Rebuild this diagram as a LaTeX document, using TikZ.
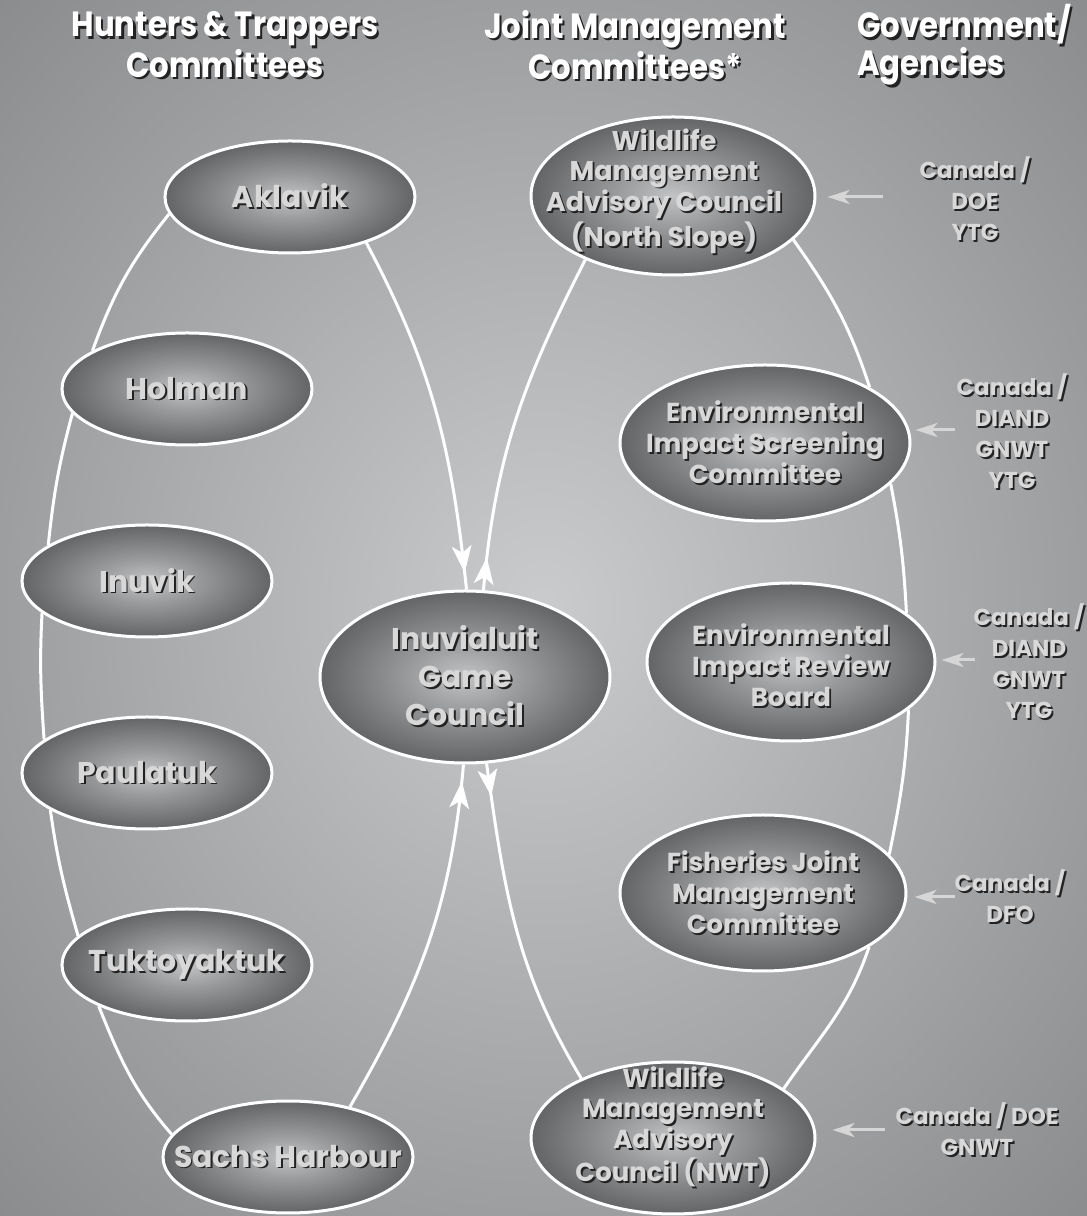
\documentclass[tikz,border=0pt]{standalone}
\usepackage{fontspec}
\setmainfont{Poppins}
\newfontfamily\headfont{Poppins}[FakeStretch=0.88]
\usetikzlibrary{shapes.geometric,arrows.meta,decorations.markings}
\definecolor{bgc0}{HTML}{CACBCD}
\definecolor{bgc1}{HTML}{9D9EA0}
\definecolor{bgc2}{HTML}{727375}
\definecolor{bgc3}{HTML}{5E5F61}
\definecolor{elc0}{HTML}{C2C3C5}
\definecolor{elc1}{HTML}{999A9C}
\definecolor{elc2}{HTML}{555658}
\definecolor{elc3}{HTML}{2B2B2D}
\definecolor{ltext}{HTML}{D8D8D8}
\definecolor{shad}{HTML}{222222}
\definecolor{govarrow}{HTML}{D6D6D6}
\pgfdeclareradialshading{bgshade}{\pgfpoint{0bp}{0bp}}{color(0bp)=(bgc0); color(25bp)=(bgc1); color(50bp)=(bgc2); color(72bp)=(bgc3)}
\pgfdeclareradialshading{ellball}{\pgfpoint{0bp}{0bp}}{color(0bp)=(elc0); color(10bp)=(elc1); color(29bp)=(elc2); color(46bp)=(elc3); color(50bp)=(elc3)}
\pgfdeclarelayer{bg}
\pgfdeclarelayer{lines}
\pgfsetlayers{bg,lines,main}
\newcommand\sh[1]{\makebox[0pt][l]{\kern1.8pt\raisebox{-1.8pt}{\color{shad}#1}}#1}
\newcommand\shw[1]{\makebox[0pt][l]{\kern2.4pt\raisebox{-2.4pt}{\color{shad}#1}}#1}
\newcommand\bigtip{\fill[white] (0pt,0pt) -- (-27pt,10pt) -- (-20pt,0pt) -- (-27pt,-10pt) -- cycle;}
\begin{document}
\begin{tikzpicture}[x=1pt,y=1pt,
  ell/.style={ellipse, inner sep=0pt, shade, shading=ellball, draw=white, line width=3pt},
  htc/.style={ell, minimum width=250pt, minimum height=112pt},
  etxt/.style={inner sep=0pt, text=ltext, align=center, font=\bfseries\fontsize{30}{34}\selectfont},
  jtxt/.style={inner sep=0pt, text=ltext, align=center, font=\bfseries\fontsize{26}{31}\selectfont},
  gtxt/.style={inner sep=0pt, text=ltext, align=center, font=\bfseries\fontsize{23}{31}\selectfont},
  htxt/.style={inner sep=0pt, text=white, font=\headfont\bfseries\fontsize{35}{38}\selectfont},
  conn/.style={draw=white, line width=3pt},
  tipin/.style={postaction={decorate}, decoration={markings, mark=at position -17pt with {\bigtip}}},
  tipout/.style={postaction={decorate}, decoration={markings, mark=at position 33pt with {\bigtip}}},
  govarr/.style={draw=govarrow, line width=3pt, -{Stealth[length=22pt,width=14pt,inset=6pt]}}
]
\useasboundingbox (0,0) rectangle (1087,1216);
\begin{pgfonlayer}{bg}
\shade[shading=bgshade] (0,0) rectangle (1087,1216);
\end{pgfonlayer}

% headers
\node[htxt, align=center] (h1) at (225,1170) {\shw{Hunters \& Trappers}\\\shw{Committees}};
\node[htxt, align=center] (h2) at (635,1170) {\shw{Joint Management}\\\shw{Committees*}};
\node[htxt, align=left, anchor=west] (h3) at (857,1170) {\shw{Government/}\\\shw{Agencies}};

% HTC ellipses
\node[htc] (akl) at (290,1019) {};
\node[htc] (hol) at (187,827) {};
\node[htc] (inu) at (147,635) {};
\node[htc] (pau) at (147,443) {};
\node[htc] (tuk) at (187,251) {};
\node[htc] (sac) at (288,59) {};
% central
\node[ell, minimum width=290pt, minimum height=172pt] (igc) at (465,539) {};
% JMC
\node[ell, minimum width=284pt, minimum height=158pt] (wns) at (673,1020) {};
\node[ell, minimum width=290pt, minimum height=156pt] (eisc) at (765,773) {};
\node[ell, minimum width=288pt, minimum height=158pt] (eirb) at (791,554) {};
\node[ell, minimum width=286pt, minimum height=156pt] (fjmc) at (763,323) {};
\node[ell, minimum width=284pt, minimum height=152pt] (wnwt) at (673,78) {};

% texts in ellipses
\node[etxt] (akl-t) at (akl) {\sh{Aklavik}};
\node[etxt] (hol-t) at (hol) {\sh{Holman}};
\node[etxt] (inu-t) at (inu) {\sh{Inuvik}};
\node[etxt] (pau-t) at (pau) {\sh{Paulatuk}};
\node[etxt] (tuk-t) at (tuk) {\sh{Tuktoyaktuk}};
\node[etxt] (sac-t) at (sac) {\sh{Sachs Harbour}};
\node[etxt, font=\bfseries\fontsize{30}{38}\selectfont] (igc-t) at (igc) {\sh{Inuvialuit}\\\sh{Game}\\\sh{Council}};
\node[jtxt, font=\bfseries\fontsize{27}{30}\selectfont] (wns-t) at (664,1024) {\sh{Wildlife}\\\sh{Management}\\\sh{Advisory Council}\\\sh{(North Slope)}};
\node[jtxt] (eisc-t) at (eisc) {\sh{Environmental}\\\sh{Impact Screening}\\\sh{Committee}};
\node[jtxt] (eirb-t) at (791,550) {\sh{Environmental}\\\sh{Impact Review}\\\sh{Board}};
\node[jtxt] (fjmc-t) at (fjmc) {\sh{Fisheries Joint}\\\sh{Management}\\\sh{Committee}};
\node[jtxt, font=\bfseries\fontsize{26}{29.5}\selectfont] (wnwt-t) at (673,88) {\sh{Wildlife}\\\sh{Management}\\\sh{Advisory}\\\sh{Council (NWT)}};

% government labels
\node[gtxt] (g1) at (975,1016) {\sh{Canada /}\\\sh{DOE}\\\sh{YTG}};
\node[gtxt] (g2) at (1012,784) {\sh{Canada /}\\\sh{DIAND}\\\sh{GNWT}\\\sh{YTG}};
\node[gtxt] (g3) at (1029,554) {\sh{Canada /}\\\sh{DIAND}\\\sh{GNWT}\\\sh{YTG}};
\node[gtxt] (g4) at (1010,319) {\sh{Canada /}\\\sh{DFO}};
\node[gtxt] (g5) at (977,86) {\sh{Canada / DOE}\\\sh{GNWT}};

\coordinate (t1) at (883,1019);
\coordinate (t2) at (955,786);
\coordinate (t3) at (975,556);
\coordinate (t4) at (955,319);
\coordinate (t5) at (885,86);

\begin{pgfonlayer}{lines}
% left chain
\draw[conn] (akl.188) to[out=231,in=70] (hol.158.5);
\draw[conn] (hol.192) to[out=255,in=84] (inu.160);
\draw[conn] (inu.197) to[out=267,in=94] (pau.162.5);
\draw[conn] (pau.201) to[out=278,in=106] (tuk.165.5);
\draw[conn] (tuk.205) to[out=292,in=131] (sac.169);
% into IGC
\draw[conn, tipin] (akl.-31) to[out=298,in=96] (igc.89);
\draw[conn, tipin] (sac.39) to[out=60,in=265] (igc.269);
% out of IGC
\draw[conn, tipout] (igc.78) to[out=85,in=243] (wns.216);
\draw[conn, tipout] (igc.284) to[out=278,in=121] (wnwt.147);
% right chain
\draw[conn] (wns.-20) to[out=305.5,in=108] (eisc.28);
\draw[conn] (eisc.-18) to[out=281,in=93] (eirb.23);
\draw[conn] (eirb.-22) to[out=267.5,in=78.5] (fjmc.17);
\draw[conn] (fjmc.-27.5) to[out=251.6,in=55.6] (wnwt.24);
\end{pgfonlayer}

% government arrows
\draw[govarr, shorten >=11pt] (t1) -- (t1 -| wns.east);
\draw[govarr, shorten >=4pt] (t2) -- (t2 -| eisc.east);
\draw[govarr, shorten >=5pt] (t3) -- (t3 -| eirb.east);
\draw[govarr, shorten >=7pt] (t4) -- (t4 -| fjmc.east);
\draw[govarr, shorten >=16pt] (t5) -- (t5 -| wnwt.east);
\end{tikzpicture}
\end{document}
